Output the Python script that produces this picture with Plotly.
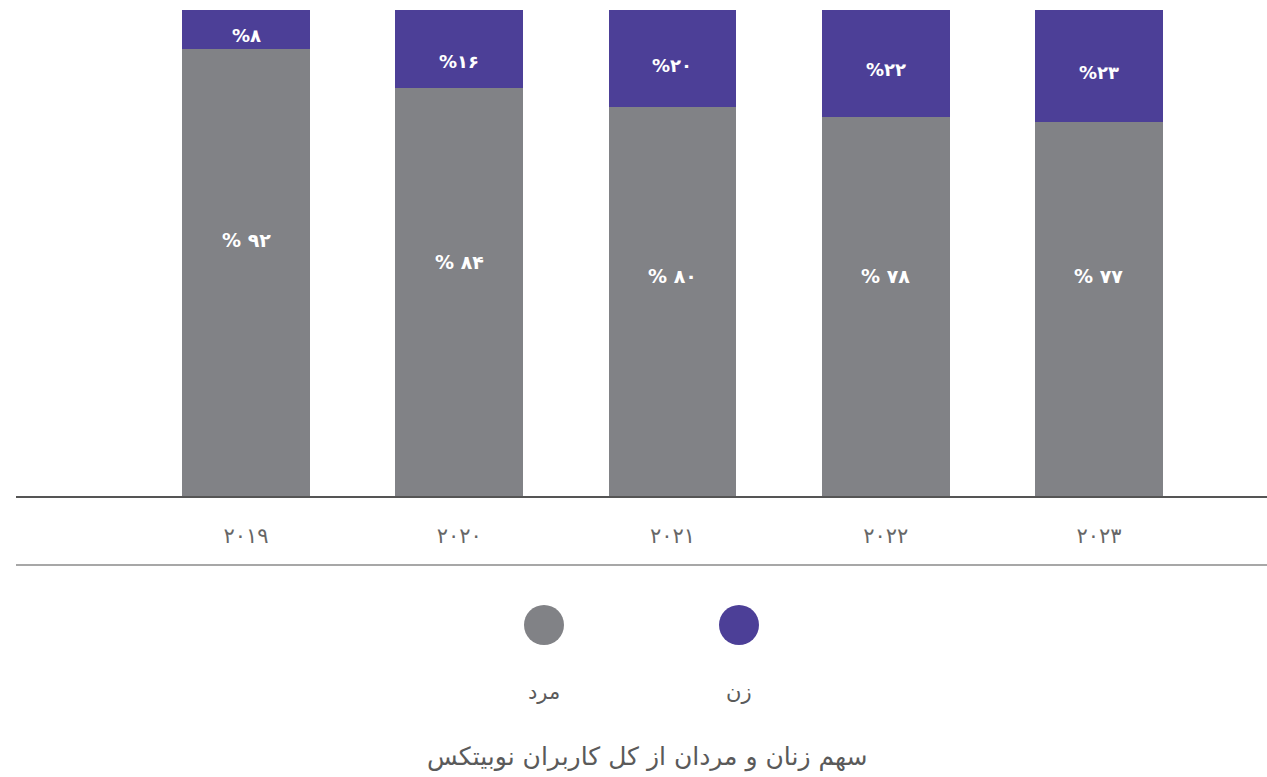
import plotly.graph_objects as go

years = ["۲۰۱۹", "۲۰۲۰", "۲۰۲۱", "۲۰۲۲", "۲۰۲۳"]
men = [92, 84, 80, 78, 77]
women = [8, 16, 20, 22, 23]
men_labels = ["% ۹۲", "% ۸۴", "% ۸۰", "% ۷۸", "% ۷۷"]
women_labels = ["%۸", "%۱۶", "%۲۰", "%۲۲", "%۲۳"]
men_label_y = [52.7, 48.1, 45.3, 45.3, 45.3]
women_label_y = [94.7, 89.5, 88.5, 87.7, 87.2]
legend_names = ["مرد", "زن"]
title_text = "سهم زنان و مردان از کل کاربران نوبیتکس"

GRAY = "#818286"
PURPLE = "#4C3F97"
TXT = "#5a5a5a"
FONT = "DejaVu Sans"

xs = list(range(len(years)))

fig = go.Figure()
fig.add_trace(go.Bar(x=xs, y=men, marker=dict(color=GRAY, line=dict(width=0)),
                     width=0.6, name=legend_names[0], hoverinfo="skip"))
fig.add_trace(go.Bar(x=xs, y=women, marker=dict(color=PURPLE, line=dict(width=0)),
                     width=0.6, name=legend_names[1], hoverinfo="skip"))

for i in xs:
    fig.add_annotation(x=i, y=men_label_y[i], text=men_labels[i], showarrow=False,
                       font=dict(family=FONT, size=19, color="white", weight="bold"),
                       xref="x", yref="y")
    fig.add_annotation(x=i, y=women_label_y[i], text=women_labels[i], showarrow=False,
                       font=dict(family=FONT, size=18, color="white", weight="bold"),
                       xref="x", yref="y")

W, H = 1267, 777
L, R, T, B = 16, 0, 10, 281
pw = W - L - R
ph = H - T - B


def px(xp):
    return (xp - L) / pw


def py(yp):
    return (H - B - yp) / ph


# second horizontal rule under tick labels
fig.add_shape(type="line", xref="paper", yref="paper", x0=0, x1=1,
              y0=py(565), y1=py(565), line=dict(color="#8a8a8a", width=1.5))

# legend markers (circles) and labels below
legend_colors = [GRAY, PURPLE]
legend_x = [544, 739]
for c, xc, name in zip(legend_colors, legend_x, legend_names):
    fig.add_shape(type="circle", xref="paper", yref="paper",
                  x0=px(xc - 20), x1=px(xc + 20), y0=py(645), y1=py(605),
                  fillcolor=c, line=dict(width=0))
    fig.add_annotation(xref="paper", yref="paper", x=px(xc), y=py(706), text=name,
                       showarrow=False, font=dict(family=FONT, size=21, color=TXT))

fig.add_annotation(xref="paper", yref="paper", x=px(647), y=py(774), text=title_text,
                   showarrow=False, font=dict(family=FONT, size=25, color=TXT))

fig.update_layout(
    barmode="stack",
    width=W, height=H,
    margin=dict(l=L, r=R, t=T, b=B),
    paper_bgcolor="white", plot_bgcolor="white",
    showlegend=False,
    bargap=0,
    xaxis=dict(range=[-1.0786, 4.788], tickmode="array", tickvals=xs, ticktext=years,
               showline=True, linecolor="#555555", linewidth=2, showgrid=False,
               zeroline=False, ticks="", ticklabelstandoff=20,
               tickfont=dict(family=FONT, size=21, color="#666666")),
    yaxis=dict(range=[0, 100], visible=False, showgrid=False, zeroline=False),
)

fig.write_html(
    "out.html",
    config={"displayModeBar": False},
    post_script="document.body.style.margin='0';document.body.style.overflow='hidden';",
)
